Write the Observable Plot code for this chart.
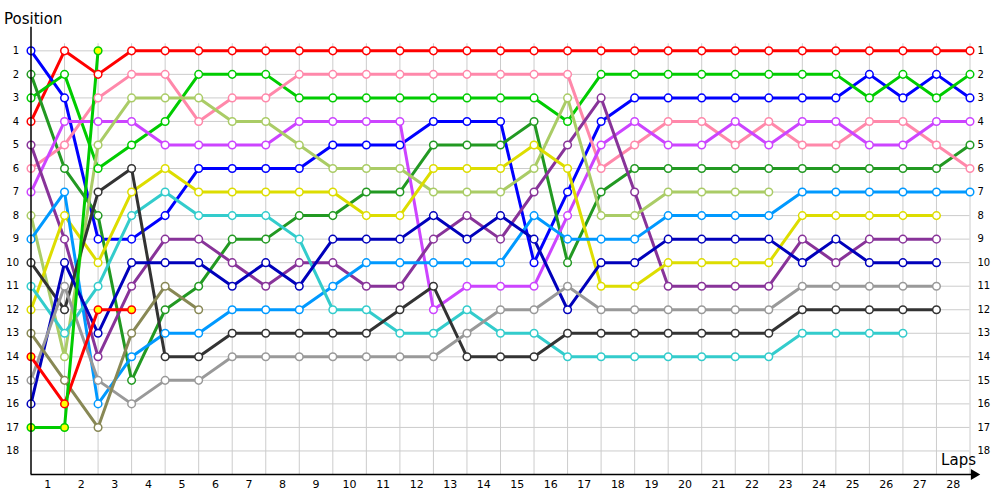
<!DOCTYPE html>
<html><head><meta charset="utf-8">
<script src="https://cdn.jsdelivr.net/npm/d3@7"></script>
<script src="https://cdn.jsdelivr.net/npm/@observablehq/plot@0.6"></script>
<style>body{margin:0;background:#fff} svg{display:block}</style>
</head><body><div id="chart"></div>
<script>
// Lap tick labels and position tick labels
const laps = d3.range(1, 29);
const positions = d3.range(1, 19);

// Series (index 0 = start, index i = end of lap i)
const drivers = ["Red","Blue","Green","DarkGreen","Pink","Violet","Purple","LightGreen","Yellow","LightBlue","Teal","Black","Navy","Gray","Olive","Red2","Green2"];
const colors  = ["#ff0000","#0000ff","#00cc00","#229922","#ff88aa","#cc44ff","#883399","#aacc66","#dddd00","#0099ff","#33cccc","#333333","#0000bb","#999999","#888855","#ff0000","#00cc00"];
const markerFill = ["#fff","#fff","#fff","#fff","#fff","#fff","#fff","#fff","#fff","#fff","#fff","#fff","#fff","#fff","#fff","#ffff00","#ffff00"];

const posRed       = [4,1,2,1,1,1,1,1,1,1,1,1,1,1,1,1,1,1,1,1,1,1,1,1,1,1,1,1,1];
const posBlue      = [1,3,9,9,8,6,6,6,6,5,5,5,4,4,4,10,7,4,3,3,3,3,3,3,3,2,3,2,3];
const posGreen     = [3,2,6,5,4,2,2,2,3,3,3,3,3,3,3,3,4,2,2,2,2,2,2,2,2,3,2,3,2];
const posDarkGreen = [2,6,8,15,12,11,9,9,8,8,7,7,5,5,5,4,10,7,6,6,6,6,6,6,6,6,6,6,5];
const posPink      = [6,5,3,2,2,4,3,3,2,2,2,2,2,2,2,2,2,6,5,4,4,5,4,5,5,4,4,5,6];
const posViolet    = [7,4,4,4,5,5,5,5,4,4,4,4,12,11,11,11,8,5,4,5,5,4,5,4,4,5,5,4,4];
const posPurple    = [5,9,14,11,9,9,10,11,10,10,11,11,9,8,9,7,5,3,7,11,11,11,11,9,10,9,9,9];
const posLightGreen= [8,14,5,3,3,3,4,4,5,6,6,6,7,7,7,6,3,8,8,7,7,7,7];
const posYellow    = [12,8,10,7,6,7,7,7,7,7,8,8,6,6,6,5,6,11,11,10,10,10,10,8,8,8,8,8];
const posLightBlue = [9,7,16,14,13,13,12,12,12,11,10,10,10,10,10,8,9,9,9,8,8,8,8,7,7,7,7,7,7];
const posTeal      = [11,13,11,8,7,8,8,8,9,12,12,13,13,12,13,13,14,14,14,14,14,14,14,13,13,13,13];
const posBlack     = [10,12,7,6,14,14,13,13,13,13,13,12,11,14,14,14,13,13,13,13,13,13,13,12,12,12,12,12];
const posNavy      = [16,10,13,10,10,10,11,10,11,9,9,9,8,9,8,9,12,10,10,9,9,9,9,10,9,10,10,10];
const posGray      = [15,11,15,16,15,15,14,14,14,14,14,14,14,13,12,12,11,12,12,12,12,12,12,11,11,11,11,11];
const posOlive     = [13,15,17,13,11,12];
const posRed2      = [14,16,12,12];
const posGreen2    = [17,17,1];

const seriesPos = [posRed,posBlue,posGreen,posDarkGreen,posPink,posViolet,posPurple,posLightGreen,posYellow,posLightBlue,posTeal,posBlack,posNavy,posGray,posOlive,posRed2,posGreen2];

const rows = drivers.flatMap((name, k) =>
  seriesPos[k].map((p, i) => ({driver: name, lap: i, pos: p, color: colors[k], fill: markerFill[k]})));

const chart = Plot.plot({
  width: 1000, height: 500,
  marginLeft: 30.5, marginRight: 30.5, marginTop: 26.8, marginBottom: 26,
  x: {domain: [0, 28], axis: null},
  y: {domain: [0, 19], reverse: true, axis: null},
  color: {type: "identity"},
  style: {fontFamily: "DejaVu Sans, Verdana, sans-serif", fontSize: "10px", background: "white", color: "black"},
  marks: [
    Plot.ruleY(positions, {x1: 0, x2: 28, stroke: "#cccccc", strokeWidth: 1}),
    Plot.ruleX(laps, {y1: 0.7, y2: 19, stroke: "#cccccc", strokeWidth: 1}),
    Plot.line(rows, {x: "lap", y: "pos", z: "driver", stroke: "color", strokeWidth: 3, strokeLinejoin: "round"}),
    Plot.dot(rows, {x: "lap", y: "pos", r: 3.8, fill: "fill", stroke: "color", strokeWidth: 1.5}),
    Plot.ruleX([0], {y1: 0, y2: 19, stroke: "black", strokeWidth: 1.5}),
    Plot.ruleY([19], {x1: 0, x2: 28.1, stroke: "black", strokeWidth: 1.5}),
    Plot.dot([0], {frameAnchor: "bottom-right", dx: 4, symbol: "triangle", rotate: 90, r: 4, fill: "black", stroke: "none"}),
    Plot.axisY(positions, {anchor: "left", tickSize: 0, tickPadding: 12, label: null, fontSize: 10}),
    Plot.axisY(positions, {anchor: "right", tickSize: 0, tickPadding: 7.5, label: null, fontSize: 10}),
    Plot.text(laps, {x: d => d - 0.5, frameAnchor: "bottom", dy: 13, text: d => String(d), fontSize: 11, fill: "black"}),
    Plot.text(["Position"], {frameAnchor: "top-left", dx: -27, dy: -14, textAnchor: "start", fontSize: 15, fill: "black"}),
    Plot.text(["Laps"], {frameAnchor: "bottom-right", dx: 6, dy: -10, textAnchor: "end", fontSize: 15, fill: "black"})
  ]
});
document.getElementById("chart").appendChild(chart);
</script>
</body></html>
